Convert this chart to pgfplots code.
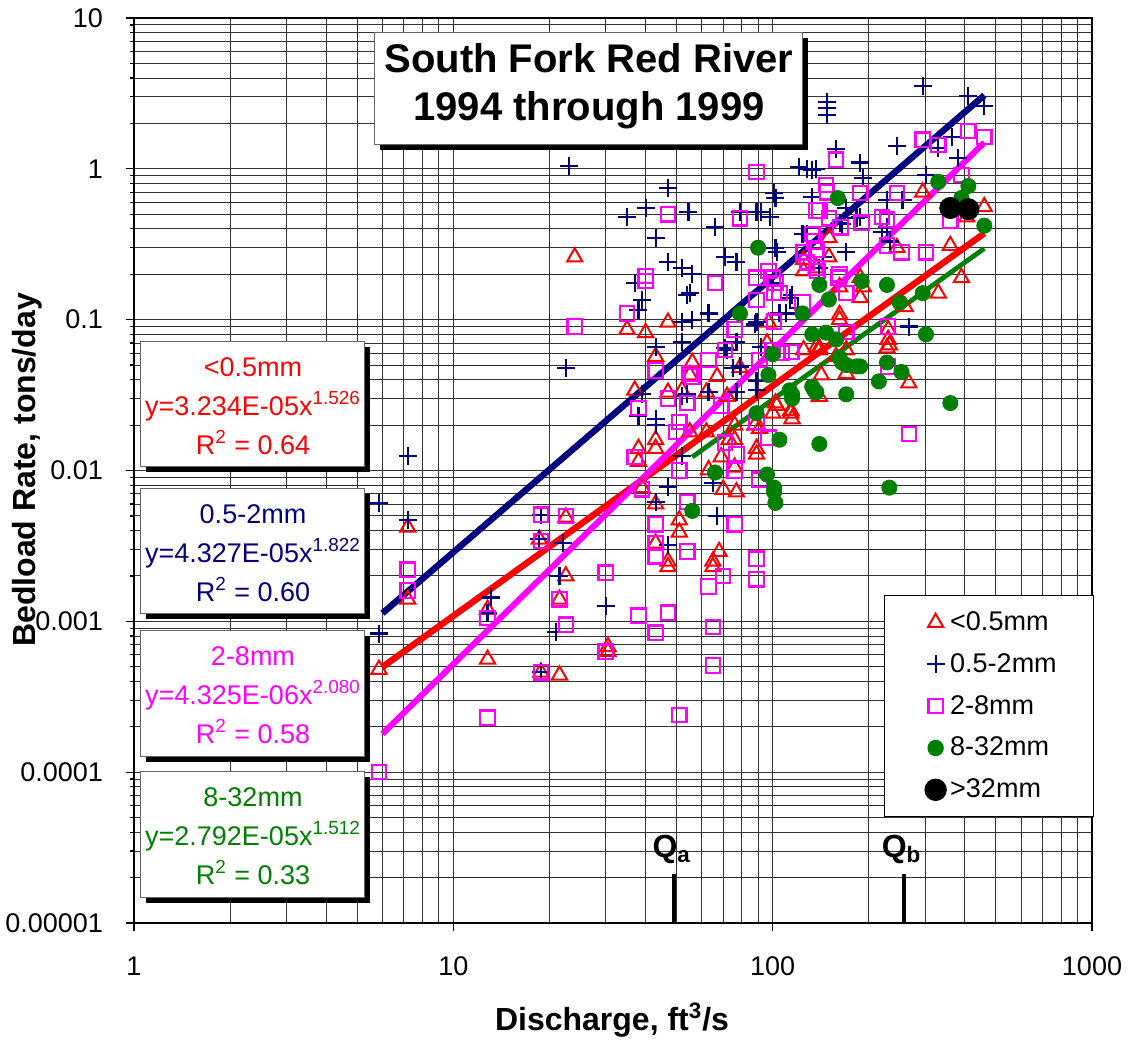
\documentclass[border=0pt]{standalone}
\usepackage{pgfplots}
\pgfplotsset{compat=1.18}
\usepackage{fontspec}
\setmainfont{Liberation Sans}
\definecolor{navyc}{RGB}{0,0,128}
\definecolor{magc}{RGB}{255,0,255}
\definecolor{grnc}{RGB}{0,128,0}
\definecolor{redc}{RGB}{255,0,0}
\newcommand{\tfont}{\fontsize{13.5bp}{16bp}\selectfont}
\newcommand{\bfont}{\fontsize{13.5bp}{19.5bp}\selectfont}
\begin{document}
\begin{tikzpicture}
\useasboundingbox (0,0) rectangle (565bp,520bp);
\begin{axis}[
 at={(67bp,58.5bp)}, anchor=south west,
 scale only axis, width=479bp, height=452.5bp,
 xmode=log, ymode=log,
 xmin=1, xmax=1000, ymin=1e-5, ymax=10,
 xtick={1,10,100,1000}, xticklabels={1,10,100,1000},
 ytick={1e-5,1e-4,1e-3,1e-2,1e-1,1,10},
 yticklabels={0.00001,0.0001,0.001,0.01,0.1,1,10},
 grid=both,
 major grid style={line width=0.45bp, black!80},
 minor grid style={line width=0.45bp, black!80},
 tick align=outside, tick pos=left,
 major tick length=4bp, minor tick length=2bp,
 minor x tick style={draw=none},
 tick style={black, line width=0.6bp},
 axis line style={black, line width=0.6bp},
 ticklabel style={font=\tfont},
 /pgf/number format/assume math mode=true,
 yticklabel style={xshift=-8bp},
 xticklabel style={yshift=-9.5bp},
 xlabel={Discharge, ft\textsuperscript{3}/s},
 ylabel={Bedload Rate, tons/day},
 every axis x label/.style={at={(axis description cs:0.499,-0.107)}, anchor=center, font=\fontsize{16bp}{19bp}\selectfont\bfseries},
 every axis y label/.style={at={(axis description cs:-0.111,0.5006)}, anchor=center, rotate=90, font=\fontsize{16bp}{19bp}\selectfont\bfseries},
 legend style={at={(axis description cs:0.7829,0.3624)}, anchor=north west, draw=black, line width=0.6bp, fill=white, font=\tfont, inner xsep=16.5bp, inner ysep=6bp, row sep=6bp},
 legend cell align=left,
 legend image code/.code={\draw[#1] plot coordinates {(0bp,0bp)}; \path[draw=none, fill=none] (-9bp,-6.5bp) rectangle (-2.5bp,6.5bp);},
]
% <0.5mm
\addplot[only marks, mark=triangle, redc, mark size=4.4bp, line width=1bp] coordinates {
(5.85,0.00048)(7.2,0.0042)(7.2,0.0014)(12.8,0.0012)(12.8,0.00056)(18.6,0.0035)(18.8,0.00046)
(21.5,0.0014)(21.5,0.00044)(22.5,0.0049)(22.5,0.0020)(24,0.26)(30.5,0.00068)(30.5,0.00063)
(35,0.086)(37,0.034)(38,0.014)(38,0.0115)(39,0.0077)(40,0.082)(43,0.057)(43,0.016)(43,0.014)
(43,0.006)(43,0.0033)(47,0.096)(47,0.033)(47,0.0025)(47,0.0023)(51,0.0047)(51,0.0039)(52,0.034)
(55,0.043)(55,0.018)(56,0.052)(62,0.018)(62,0.033)(63,0.0101)(65,0.0025)(65,0.0023)(67,0.042)
(68,0.0029)(69,0.0123)(70,0.0075)(72,0.031)(73,0.016)(76,0.020)(76,0.016)(76,0.0105)(77,0.0072)
(79,0.048)(88,0.020)(89,0.014)(89,0.0128)(91,0.019)(96,0.070)(97,0.096)(100,0.024)(102,0.028)
(103,0.027)(114,0.024)(115,0.022)(114,0.025)(125,0.25)(125,0.21)(125,0.063)(137,0.066)(137,0.22)
(140,0.063)(140,0.065)(140,0.031)(142,0.043)(150,0.35)(150,0.26)(158,0.057)(162,0.165)(162,0.108)
(162,0.10)(170,0.063)(170,0.044)(188,0.19)(188,0.14)(192,0.165)(230,0.086)(230,0.074)(228,0.065)
(232,0.068)(245,0.30)(260,0.122)(267,0.038)(295,0.70)(330,0.15)(360,0.31)(390,0.19)(405,0.48)(460,0.56)
};
\addlegendentry{<0.5mm}
% 0.5-2mm
\addplot[only marks, mark=+, navyc, mark size=4.5bp, line width=1.1bp] coordinates {
(5.85,0.0061)(5.85,0.00083)(7.2,0.0125)(7.2,0.0047)(12.8,0.00113)(13.1,0.00144)(18.8,0.0051)
(18.6,0.0035)(18.8,0.00046)(21,0.00085)(21.5,0.0020)(22,0.0033)(22.5,0.048)(23,1.05)(30,0.00126)
(35,0.48)(37,0.175)(38,0.116)(38,0.023)(39,0.135)(39,0.032)(40,0.55)(43,0.35)(43,0.066)(43,0.022)
(43,0.020)(43,0.0062)(47,0.75)(47,0.24)(47,0.0078)(47,0.0032)(52,0.22)(52,0.096)(52,0.071)
(52,0.031)(52,0.0125)(54,0.146)(54,0.032)(54.5,0.52)(55,0.15)(56,0.20)(56,0.10)(63,0.11)(63,0.033)
(65,0.0083)(66,0.41)(67,0.0050)(71,0.26)(71,0.065)(72,0.063)(75,0.048)(77,0.24)(77,0.071)(77,0.033)
(79,0.52)(79,0.049)(88,0.093)(89,0.52)(89,0.096)(89,0.039)(89,0.034)(92,0.52)(92,0.066)(98,0.48)
(100,0.175)(101,0.69)(102,0.64)(102,0.30)(103,0.28)(105,0.11)(110,0.11)(113,0.14)(115,0.146)
(120,0.12)(121,1.03)(124,0.37)(128,1.0)(128,0.37)(133,0.98)(133,0.65)(137,1.0)(140,0.22)(144,0.26)
(148,2.78)(148,2.53)(148,2.28)(158,1.35)(163,0.44)(165,0.43)(170,0.28)(170,0.55)(183,0.47)(188,1.1)
(188,0.48)(192,0.87)(220,0.38)(228,0.62)(228,0.41)(233,0.33)(245,1.42)(255,0.62)(267,0.09)
(295,3.55)(302,0.91)(330,1.38)(365,1.63)(380,1.18)(410,3.05)(460,2.6)
};
\addlegendentry{0.5-2mm}
% 2-8mm
\addplot[only marks, mark=square, magc, mark size=3.6bp, line width=1.1bp] coordinates {
(5.85,0.0001)(7.2,0.0022)(7.2,0.0016)(12.8,0.00105)(12.8,0.00023)(18.8,0.0051)(18.8,0.0034)
(18.8,0.00046)(21.5,0.0014)(22.5,0.0050)(22.5,0.00095)(24,0.09)(30,0.0021)(30,0.00063)(35,0.11)
(37,0.0123)(38,0.026)(38,0.00109)(39,0.0075)(40,0.195)(40,0.18)(43,0.046)(43,0.0044)(43,0.0033)
(43,0.0027)(43,0.00084)(47,0.50)(47,0.030)(47,0.00114)(50,0.018)(51,0.021)(51,0.010)(51,0.00024)
(54,0.028)(54,0.0062)(54,0.0029)(55,0.044)(56,0.042)(63,0.054)(63,0.0017)(65,0.00092)(65,0.00051)
(66,0.175)(69,0.027)(70,0.0020)(71,0.063)(71,0.0153)(76,0.086)(76,0.010)(76,0.0044)(77,0.0128)
(79,0.47)(89,0.95)(89,0.19)(89,0.135)(89,0.021)(89,0.0026)(89,0.0019)(91,0.054)(91,0.0087)
(97,0.21)(97,0.0165)(100,0.19)(100,0.063)(101,0.15)(101,0.097)(102,0.175)(105,0.15)(107,0.06)
(114,0.061)(115,0.061)(124,0.13)(125,0.28)(128,0.24)(133,0.37)(135,0.33)(137,0.53)(137,0.29)
(137,0.22)(138,0.21)(140,0.53)(147,0.78)(148,0.70)(150,0.47)(158,1.15)(161,0.19)(162,0.20)
(163,0.41)(170,0.15)(170,0.083)(188,0.69)(190,0.44)(220,0.48)(228,0.46)(228,0.31)(230,0.09)
(230,0.049)(245,0.69)(253,0.28)(267,0.0175)(295,1.56)(302,0.28)(330,1.44)(360,0.45)(390,0.91)
(410,1.78)(460,1.63)
};
\addlegendentry{2-8mm}
% 8-32mm
\addplot[only marks, mark=*, grnc, mark size=3.8bp, mark options={fill=grnc, draw=grnc}] coordinates {
(56,0.0054)(66,0.0097)(79,0.11)(89,0.024)(90,0.30)(96,0.0094)(97,0.043)(100,0.059)(101,0.0072)
(101,0.0077)(102,0.0061)(105,0.016)(113,0.034)(115,0.032)(115,0.030)(124,0.11)(133,0.080)
(133,0.036)(135,0.034)(137,0.033)(140,0.17)(140,0.015)(147,0.082)(150,0.136)(158,0.074)(160,0.64)
(162,0.056)(165,0.052)(170,0.050)(170,0.032)(183,0.049)(188,0.049)(190,0.18)(215,0.039)(228,0.17)
(228,0.052)(232,0.0077)(250,0.13)(253,0.045)(295,0.15)(302,0.08)(330,0.82)(360,0.028)(390,0.64)
(410,0.77)(460,0.42)
};
\addlegendentry{8-32mm}
% >32mm
\addplot[only marks, mark=*, black, mark size=5.3bp] coordinates {(360,0.55)(410,0.54)};
\addlegendentry{>32mm}
% power-law fits (end points)
\addplot[forget plot, redc, line width=3.2bp] coordinates {(6,4.98e-4)(460,0.374)};
\addplot[forget plot, navyc, line width=3.2bp] coordinates {(6,1.132e-3)(460,3.075)};
\addplot[forget plot, magc, line width=3bp] coordinates {(6,1.797e-4)(460,1.495)};
\addplot[forget plot, grnc, line width=2.4bp] coordinates {(56,0.01229)(460,0.2966)};
% Qa, Qb
\addplot[forget plot, black, line width=2bp] coordinates {(49,1e-5)(49,2.1e-5)};
\addplot[forget plot, black, line width=2bp] coordinates {(257,1e-5)(257,2.1e-5)};
\node[anchor=south, font=\fontsize{16bp}{19bp}\selectfont\bfseries, xshift=-1bp, yshift=2bp] at (axis cs:49,2.1e-5) {Q\textsubscript{a}};
\node[anchor=south, font=\fontsize{16bp}{19bp}\selectfont\bfseries, xshift=-1bp, yshift=2bp] at (axis cs:257,2.1e-5) {Q\textsubscript{b}};
\end{axis}
\begin{scope}[x=0.5bp, y=-0.5bp, yshift=520bp]
 % title box
 \fill[black] (380,38) rectangle (808,150);
 \filldraw[fill=white, draw=black!60, line width=0.5bp] (375,33) rectangle (803,145);
 \node[align=center, font=\fontsize{20bp}{24bp}\selectfont\bfseries] at (589,86) {South Fork Red River\\1994 through 1999};
 % equation boxes
 \foreach \ya/\yb in {342/467, 489/614, 631/757, 772/898} {
   \fill[black] (146,\ya+5) rectangle (370,\yb+5);
   \filldraw[fill=white, draw=black!60, line width=0.5bp] (141,\ya) rectangle (365,\yb);
 }
 \node[align=center, font=\bfont, text=redc] at (253,406) {<0.5mm\\y=3.234E-05x\textsuperscript{1.526}\\R\textsuperscript{2} = 0.64};
 \node[align=center, font=\bfont, text=navyc] at (253,553) {0.5-2mm\\y=4.327E-05x\textsuperscript{1.822}\\R\textsuperscript{2} = 0.60};
 \node[align=center, font=\bfont, text=magc] at (253,695) {2-8mm\\y=4.325E-06x\textsuperscript{2.080}\\R\textsuperscript{2} = 0.58};
 \node[align=center, font=\bfont, text=grnc] at (253,836) {8-32mm\\y=2.792E-05x\textsuperscript{1.512}\\R\textsuperscript{2} = 0.33};
\end{scope}
\end{tikzpicture}
\end{document}
